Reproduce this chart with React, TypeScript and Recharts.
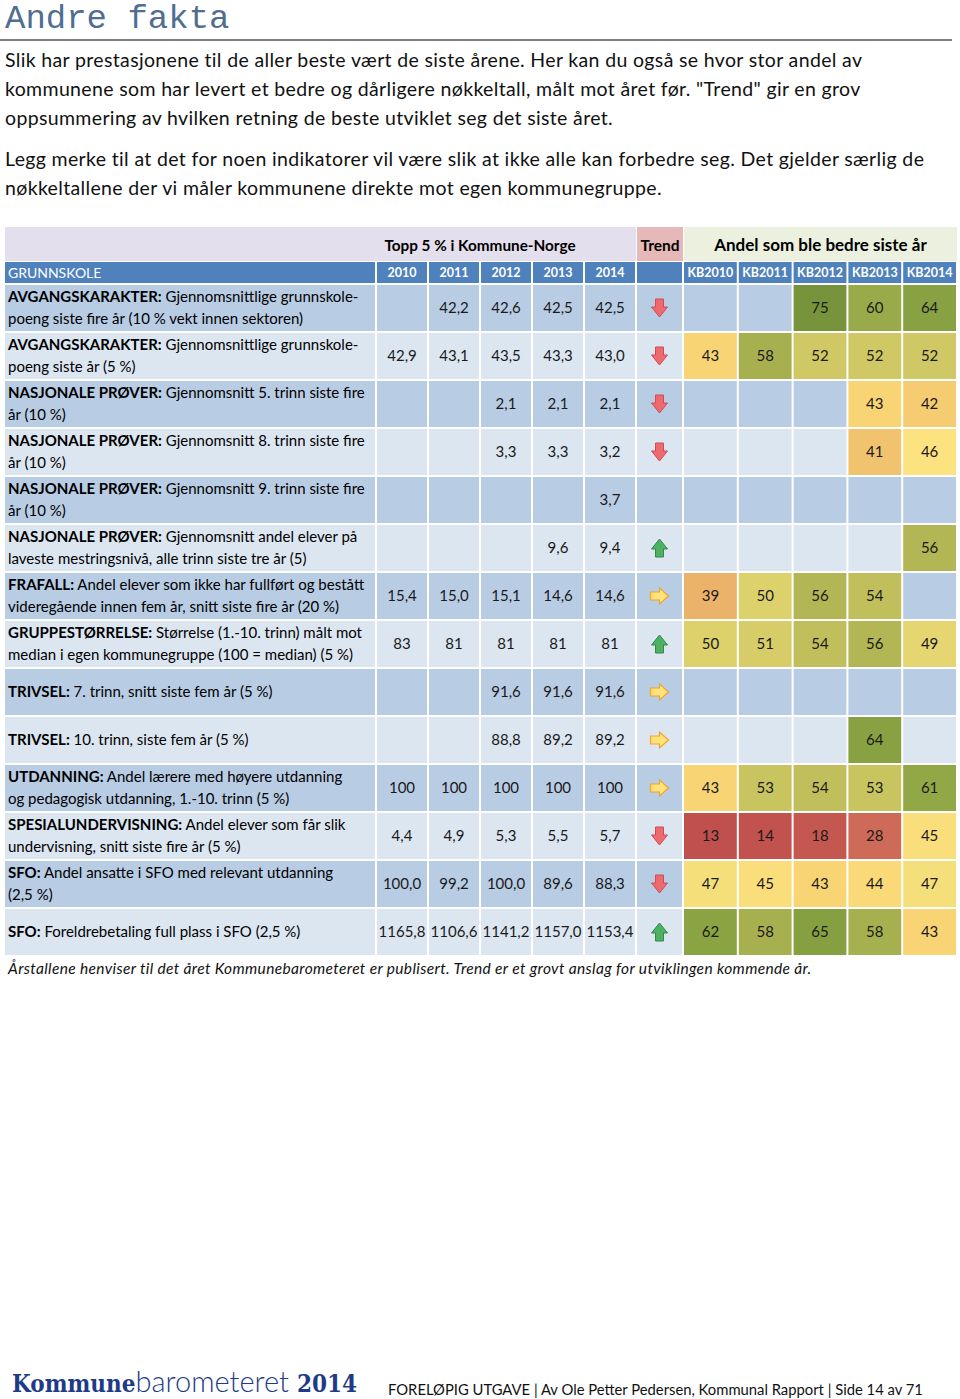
import React from "react";
import { Scatter, ScatterChart, XAxis, YAxis } from "recharts";

// tabell-data (lest av bildet)
const years = ["2010", "2011", "2012", "2013", "2014"];
const kbYears = ["KB2010", "KB2011", "KB2012", "KB2013", "KB2014"];

const indicatorNames = [
  "AVGANGSKARAKTER:",
  "AVGANGSKARAKTER:",
  "NASJONALE PRØVER:",
  "NASJONALE PRØVER:",
  "NASJONALE PRØVER:",
  "NASJONALE PRØVER:",
  "FRAFALL:",
  "GRUPPESTØRRELSE:",
  "TRIVSEL:",
  "TRIVSEL:",
  "UTDANNING:",
  "SPESIALUNDERVISNING:",
  "SFO:",
  "SFO:",
];

const indicatorText: string[][] = [
  [" Gjennomsnittlige grunnskole-", "poeng siste fire år (10 % vekt innen sektoren)"],
  [" Gjennomsnittlige grunnskole-", "poeng siste år (5 %)"],
  [" Gjennomsnitt 5. trinn siste fire", "år (10 %)"],
  [" Gjennomsnitt 8. trinn siste fire", "år (10 %)"],
  [" Gjennomsnitt 9. trinn siste fire", "år (10 %)"],
  [" Gjennomsnitt andel elever på", "laveste mestringsnivå, alle trinn siste tre år (5)"],
  [" Andel elever som ikke har fullført og bestått", "videregående innen fem år, snitt siste fire år (20 %)"],
  [" Størrelse (1.-10. trinn) målt mot", "median i egen kommunegruppe (100 = median) (5 %)"],
  [" 7. trinn, snitt siste fem år (5 %)"],
  [" 10. trinn, siste fem år (5 %)"],
  [" Andel lærere med  høyere utdanning", "og pedagogisk utdanning, 1.-10. trinn (5 %)"],
  [" Andel elever som får slik", "undervisning, snitt siste fire år (5 %)"],
  [" Andel ansatte i SFO med relevant utdanning", "(2,5 %)"],
  [" Foreldrebetaling full plass i SFO (2,5 %)"],
];

const topFive: (number | null)[][] = [
  [null, 42.2, 42.6, 42.5, 42.5],
  [42.9, 43.1, 43.5, 43.3, 43.0],
  [null, null, 2.1, 2.1, 2.1],
  [null, null, 3.3, 3.3, 3.2],
  [null, null, null, null, 3.7],
  [null, null, null, 9.6, 9.4],
  [15.4, 15.0, 15.1, 14.6, 14.6],
  [83, 81, 81, 81, 81],
  [null, null, 91.6, 91.6, 91.6],
  [null, null, 88.8, 89.2, 89.2],
  [100, 100, 100, 100, 100],
  [4.4, 4.9, 5.3, 5.5, 5.7],
  [100.0, 99.2, 100.0, 89.6, 88.3],
  [1165.8, 1106.6, 1141.2, 1157.0, 1153.4],
];
const topDecimals = [1, 1, 1, 1, 1, 1, 1, 0, 1, 1, 0, 1, 1, 1];

const trends = ["down", "down", "down", "down", null, "up", "right", "up", "right", "right", "right", "down", "down", "up"];

const betterShare: (number | null)[][] = [
  [null, null, 75, 60, 64],
  [43, 58, 52, 52, 52],
  [null, null, null, 43, 42],
  [null, null, null, 41, 46],
  [null, null, null, null, null],
  [null, null, null, null, 56],
  [39, 50, 56, 54, null],
  [50, 51, 54, 56, 49],
  [null, null, null, null, null],
  [null, null, null, 64, null],
  [43, 53, 54, 53, 61],
  [13, 14, 18, 28, 45],
  [47, 45, 43, 44, 47],
  [62, 58, 65, 58, 43],
];

const ROW_H = 48;
const HEAD_H = 22;
const N_ROWS = indicatorNames.length;
const rowTicks = indicatorNames.map((_, i) => i);
const FONT = "Lato, 'Noto Sans', sans-serif";

const rowFill = (r: number) => (r % 2 === 0 ? "#B8CCE4" : "#DCE6F1");

// fargeskala for "andel som ble bedre"
const stops: [number, string][] = [
  [13, "#C0504D"],
  [18, "#C45850"],
  [28, "#CE6A58"],
  [39, "#EBB26A"],
  [43, "#F8D474"],
  [46, "#FCE380"],
  [50, "#DDD16C"],
  [56, "#B3B654"],
  [62, "#8BA443"],
  [75, "#77933C"],
];
const hex = (s: string) => [1, 3, 5].map((i) => parseInt(s.slice(i, i + 2), 16));
function shareColor(v: number) {
  if (v <= stops[0][0]) return stops[0][1];
  for (let i = 1; i < stops.length; i++) {
    if (v <= stops[i][0]) {
      const [v0, c0] = stops[i - 1];
      const [v1, c1] = stops[i];
      const t = (v - v0) / (v1 - v0);
      const a = hex(c0);
      const b = hex(c1);
      return `rgb(${a.map((x, k) => Math.round(x + (b[k] - x) * t)).join(",")})`;
    }
  }
  return stops[stops.length - 1][1];
}

const fmt = (v: number, d: number) => v.toFixed(d).replace(".", ",");

function Grid({ width, labelWidth = 0, headers, data, shape }: any) {
  const colW = (width - labelWidth) / headers.length;
  return (
    <ScatterChart
      width={width}
      height={HEAD_H + N_ROWS * ROW_H}
      margin={{ top: 0, right: 0, bottom: 0, left: 0 }}
    >
      <XAxis
        type="number"
        dataKey="c"
        orientation="top"
        domain={[-0.5, headers.length - 0.5]}
        ticks={headers.map((_: string, i: number) => i)}
        interval={0}
        height={HEAD_H}
        axisLine={false}
        tickLine={false}
        tick={(p: any) => (
          <g>
            <rect x={p.x - colW / 2 + 1} y={0} width={colW - 2} height={HEAD_H - 1} fill="#4F81BD" />
            <text
              x={p.x}
              y={HEAD_H / 2 + 4}
              textAnchor="middle"
              fill="#fff"
              fontWeight="bold"
              fontSize={12.5}
              fontFamily={FONT}
            >
              {headers[p.payload.value]}
            </text>
          </g>
        )}
      />
      <YAxis
        type="number"
        dataKey="r"
        reversed
        domain={[-0.5, N_ROWS - 0.5]}
        ticks={rowTicks}
        interval={0}
        width={labelWidth}
        hide={labelWidth === 0}
        axisLine={false}
        tickLine={false}
        tick={(p: any) => {
          const r = p.payload.value;
          const lines = indicatorText[r];
          const y0 = lines.length > 1 ? p.y - 11 : p.y;
          return (
            <g>
              <rect x={0} y={p.y - ROW_H / 2 + 1} width={labelWidth - 1} height={ROW_H - 2} fill={rowFill(r)} />
              {lines.map((ln, i) => (
                <text key={i} x={3} y={y0 + i * 22 + 5} fontSize={15} fontFamily={FONT} fill="#000">
                  {i === 0 && <tspan fontWeight="bold">{indicatorNames[r]}</tspan>}
                  <tspan>{ln}</tspan>
                </text>
              ))}
            </g>
          );
        }}
      />
      <Scatter data={data} isAnimationActive={false} shape={(p: any) => shape(p, colW)} />
    </ScatterChart>
  );
}

const topData = topFive.flatMap((row, r) => row.map((v, c) => ({ r, c, v, d: topDecimals[r] })));
const trendData = trends.map((t, r) => ({ r, c: 0, t }));
const shareData = betterShare.flatMap((row, r) => row.map((v, c) => ({ r, c, v })));

function cellRect(p: any, w: number, fill: string) {
  return <rect x={p.cx - w / 2 + 1} y={p.cy - ROW_H / 2 + 1} width={w - 2} height={ROW_H - 2} fill={fill} />;
}

function valueShape(p: any, w: number) {
  const { v, d, r } = p.payload;
  return (
    <g>
      {cellRect(p, w, rowFill(r))}
      {v != null && (
        <text x={p.cx} y={p.cy + 5} textAnchor="middle" fontSize={15} fontFamily={FONT} fill="#1A1A1A">
          {fmt(v, d)}
        </text>
      )}
    </g>
  );
}

function arrow(t: string, cx: number, cy: number) {
  if (t === "down")
    return (
      <polygon
        points={`${cx - 4},${cy - 9} ${cx + 4},${cy - 9} ${cx + 4},${cy - 1} ${cx + 8},${cy - 1} ${cx},${cy + 9} ${cx - 8},${cy - 1} ${cx - 4},${cy - 1}`}
        fill="#EE6A70"
        stroke="#CF4C52"
        strokeWidth={1}
      />
    );
  if (t === "up")
    return (
      <polygon
        points={`${cx - 4},${cy + 9} ${cx + 4},${cy + 9} ${cx + 4},${cy + 1} ${cx + 8},${cy + 1} ${cx},${cy - 9} ${cx - 8},${cy + 1} ${cx - 4},${cy + 1}`}
        fill="#4DB062"
        stroke="#2E8B45"
        strokeWidth={1}
      />
    );
  return (
    <polygon
      points={`${cx - 9},${cy - 4} ${cx - 9},${cy + 4} ${cx},${cy + 4} ${cx},${cy + 8} ${cx + 9},${cy} ${cx},${cy - 8} ${cx},${cy - 4}`}
      fill="#FFE27A"
      stroke="#F0A52C"
      strokeWidth={1.2}
    />
  );
}

function trendShape(p: any, w: number) {
  const { t, r } = p.payload;
  return (
    <g>
      {cellRect(p, w, rowFill(r))}
      {t && arrow(t, p.cx, p.cy)}
    </g>
  );
}

function shareShape(p: any, w: number) {
  const { v, r } = p.payload;
  return (
    <g>
      {cellRect(p, w, v == null ? rowFill(r) : shareColor(v))}
      {v != null && (
        <text x={p.cx} y={p.cy + 5} textAnchor="middle" fontSize={15} fontFamily={FONT} fill="#1A1A1A">
          {v}
        </text>
      )}
    </g>
  );
}

const pStyle: React.CSSProperties = {
  position: "absolute",
  left: 5,
  fontSize: 19.5,
  letterSpacing: 0.35,
  lineHeight: "29px",
  whiteSpace: "nowrap",
  color: "#111",
};

const logoBold: React.CSSProperties = {
  fontFamily: "'DejaVu Serif Condensed', 'DejaVu Serif', serif",
  fontStretch: "condensed",
  fontWeight: "bold",
  fontSize: 24,
};

export default function App() {
  return (
    <div
      style={{
        position: "absolute",
        left: 0,
        top: 0,
        width: 960,
        height: 1399,
        background: "#fff",
        fontFamily: FONT,
        overflow: "hidden",
      }}
    >
      <div
        style={{
          position: "absolute",
          left: 5,
          top: 1,
          fontFamily: "'Liberation Mono', 'DejaVu Sans Mono', monospace",
          fontSize: 34,
          color: "#4F6E91",
          lineHeight: "36px",
          whiteSpace: "nowrap",
        }}
      >
        Andre fakta
      </div>
      <div style={{ position: "absolute", left: 0, top: 39, width: 952, height: 2, background: "#7F7F7F" }} />

      <div style={{ ...pStyle, top: 45 }}>
        Slik har prestasjonene til de aller beste vært de siste årene. Her kan du også se hvor stor andel av
        <br />
        kommunene som har levert et bedre og dårligere nøkkeltall, målt mot året før. "Trend" gir en grov
        <br />
        oppsummering av hvilken retning de beste utviklet seg det siste året.
      </div>
      <div style={{ ...pStyle, top: 144 }}>
        Legg merke til at det for noen indikatorer vil være slik at ikke alle kan forbedre seg. Det gjelder særlig de
        <br />
        nøkkeltallene der vi måler kommunene direkte mot egen kommunegruppe.
      </div>

      {/* tabellen */}
      <div style={{ position: "absolute", left: 5, top: 227, width: 952 }}>
        <div style={{ position: "relative", height: 35 }}>
          <div style={{ position: "absolute", left: 0, top: 0, width: 631, height: 34, background: "#E4DFEC" }} />
          <div style={{ position: "absolute", left: 632, top: 0, width: 46, height: 34, background: "#E6B8B7" }} />
          <div style={{ position: "absolute", left: 679, top: 0, width: 273, height: 34, background: "#EBF1DE" }} />
          <div style={{ position: "absolute", left: 345, width: 260, top: 7, textAlign: "center", fontWeight: "bold", fontSize: 15.3, lineHeight: "22px", whiteSpace: "nowrap" }}>
            Topp 5 % i Kommune-Norge
          </div>
          <div style={{ position: "absolute", left: 632, width: 46, top: 7, textAlign: "center", fontWeight: "bold", fontSize: 15.5, lineHeight: "22px" }}>
            Trend
          </div>
          <div style={{ position: "absolute", left: 679, width: 273, top: 6, textAlign: "center", fontWeight: "bold", fontSize: 17, lineHeight: "24px", whiteSpace: "nowrap" }}>
            Andel som ble bedre siste år
          </div>
        </div>
        <div style={{ position: "relative", display: "flex" }}>
          <Grid width={631} labelWidth={371} headers={years} data={topData} shape={valueShape} />
          <Grid width={47} headers={[""]} data={trendData} shape={trendShape} />
          <Grid width={274} headers={kbYears} data={shareData} shape={shareShape} />
          <div
            style={{
              position: "absolute",
              left: 0,
              top: 0,
              width: 370,
              height: HEAD_H - 1,
              background: "#4F81BD",
              color: "#fff",
              fontSize: 14,
              lineHeight: "21px",
              paddingLeft: 3,
              boxSizing: "border-box",
            }}
          >
            GRUNNSKOLE
          </div>
        </div>
      </div>

      <div style={{ position: "absolute", left: 8, top: 958, fontStyle: "italic", fontSize: 15.5, letterSpacing: 0.35, lineHeight: "20px", color: "#111", whiteSpace: "nowrap" }}>
        Årstallene henviser til det året Kommunebarometeret er publisert. Trend er et grovt anslag for utviklingen kommende år.
      </div>

      <div style={{ position: "absolute", left: 12, top: 1366, height: 30, lineHeight: "30px", color: "#1F3B87", whiteSpace: "nowrap" }}>
        <span style={logoBold}>Kommune</span>
        <span style={{ fontWeight: 300, fontSize: 29 }}>barometeret </span>
        <span style={logoBold}>2014</span>
      </div>
      <div style={{ position: "absolute", left: 388, top: 1379, fontSize: 14.8, lineHeight: "20px", color: "#111", whiteSpace: "nowrap" }}>
        FORELØPIG UTGAVE | Av Ole Petter Pedersen, Kommunal Rapport | Side 14 av 71
      </div>
    </div>
  );
}
